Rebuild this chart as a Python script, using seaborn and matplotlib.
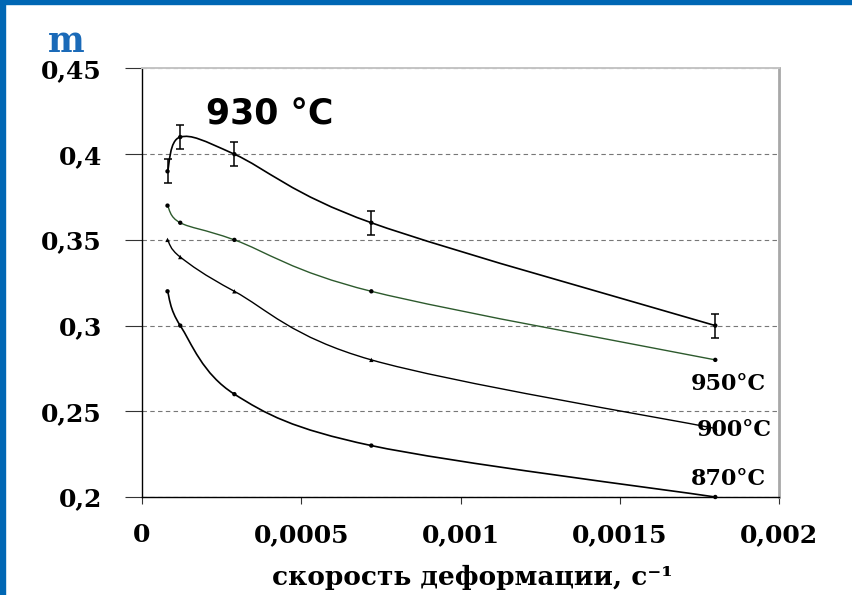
import numpy as np
import pandas as pd
import seaborn as sns
import matplotlib
matplotlib.use('Agg')
import matplotlib.pyplot as plt
from matplotlib.path import Path
from matplotlib.patches import PathPatch, Rectangle

# strain rate, 1/s
rate = [0.00008, 0.00012, 0.00029, 0.00072, 0.0018]
m_930 = [0.39, 0.41, 0.40, 0.36, 0.30]
err_930 = [0.007, 0.007, 0.007, 0.007, 0.007]
m_950 = [0.37, 0.36, 0.35, 0.32, 0.28]
m_900 = [0.35, 0.34, 0.32, 0.28, 0.24]
m_870 = [0.32, 0.30, 0.26, 0.23, 0.20]

y_ticks = [0.2, 0.25, 0.3, 0.35, 0.4, 0.45]
y_tick_labels = ['0,2', '0,25', '0,3', '0,35', '0,4', '0,45']
x_ticks = [0, 0.0005, 0.001, 0.0015, 0.002]
x_tick_labels = ['0', '0,0005', '0,001', '0,0015', '0,002']

df = pd.DataFrame({
    'rate': rate * 4,
    'm': m_930 + m_950 + m_900 + m_870,
    'temp': ['930'] * 5 + ['950'] * 5 + ['900'] * 5 + ['870'] * 5,
})


def smooth_path(x, y):
    # excel-like smoothed line (catmull-rom as cubic bezier)
    pts = np.column_stack([x, y])
    p = np.vstack([pts[:1], pts, pts[-1:]])
    verts = [pts[0]]
    codes = [Path.MOVETO]
    for i in range(1, len(p) - 2):
        c1 = p[i] + (p[i + 1] - p[i - 1]) / 6
        c2 = p[i + 1] - (p[i + 2] - p[i]) / 6
        verts += [c1, c2, p[i + 1]]
        codes += [Path.CURVE4] * 3
    return Path(verts, codes)


sns.set_style('white')
plt.rcParams['font.family'] = ['DejaVu Serif']
plt.rcParams['font.weight'] = 'bold'
plt.rcParams['text.color'] = 'black'
plt.rcParams['axes.labelcolor'] = 'black'
plt.rcParams['xtick.color'] = 'black'
plt.rcParams['ytick.color'] = 'black'

fig = plt.figure(figsize=(8.52, 5.95), dpi=100)
ax = fig.add_axes([0.1667, 0.1647, 0.7476, 0.7202])

colors = {'930': 'black', '950': '#2d5a2d', '900': 'black', '870': 'black'}
widths = {'930': 1.2, '950': 1.0, '900': 1.0, '870': 1.2}
for t in ['930', '950', '900', '870']:
    sub = df[df['temp'] == t]
    ax.add_patch(PathPatch(smooth_path(sub['rate'], sub['m']), fill=False,
                           edgecolor=colors[t], lw=widths[t], zorder=3))

markers = {'930': 'o', '950': 'o', '900': '^', '870': 'o'}
sns.scatterplot(data=df, x='rate', y='m', hue='temp', style='temp',
                markers=markers, palette={k: 'black' for k in colors},
                s=10, edgecolor='none', legend=False, ax=ax, zorder=4,
                clip_on=False)

ax.errorbar(rate, m_930, yerr=err_930, fmt='none', ecolor='black',
            elinewidth=1.1, capsize=2.6, capthick=1.1, zorder=4)

ax.set_xlim(0, 0.002)
ax.set_ylim(0.2, 0.45)
ax.set_xticks(x_ticks)
ax.set_xticklabels(x_tick_labels)
ax.set_yticks(y_ticks)
ax.set_yticklabels(y_tick_labels)
ax.tick_params(axis='y', direction='out', length=12, width=0.8,
               color='#333333', pad=17, labelsize=18, left=True)
ax.tick_params(axis='x', direction='out', length=5, width=0.8,
               color='#333333', pad=14, labelsize=18, bottom=True)

ax.yaxis.grid(True, linestyle=(0, (4, 3)), color='#777777', lw=0.8)
ax.xaxis.grid(False)

ax.spines['left'].set_color('black')
ax.spines['left'].set_linewidth(1.0)
ax.spines['bottom'].set_color('black')
ax.spines['bottom'].set_linewidth(1.0)
ax.spines['top'].set_color('#c4c4c4')
ax.spines['top'].set_linewidth(1.4)
ax.spines['right'].set_color('#a8a8a8')
ax.spines['right'].set_linewidth(2.0)

ax.set_xlabel('скорость деформации, с⁻¹', fontsize=19, fontweight='bold',
              va='center')
ax.xaxis.set_label_coords(0.518, -0.188)
ax.set_ylabel('')

fig.text(66 / 852, 1 - 42 / 595, 'm', fontsize=25, fontweight='bold',
         color='#1a6ab8', ha='center', va='center')

ax.text(0.201, 0.893, '930 °C', transform=ax.transAxes, fontsize=25,
        fontweight='heavy', family=['DejaVu Sans'], ha='center', va='center')
ax.text(0.98, 0.264, '950°C', transform=ax.transAxes, fontsize=16,
        fontweight='bold', ha='right', va='center')
ax.text(0.989, 0.157, '900°C', transform=ax.transAxes, fontsize=16,
        fontweight='bold', ha='right', va='center')
ax.text(0.98, 0.042, '870°C', transform=ax.transAxes, fontsize=16,
        fontweight='bold', ha='right', va='center')

# blue slide frame
fig.patches.append(Rectangle((0, 1 - 4 / 595), 1, 4 / 595, transform=fig.transFigure,
                             color='#0067b4', zorder=10))
fig.patches.append(Rectangle((0, 0), 5 / 852, 1, transform=fig.transFigure,
                             color='#0067b4', zorder=10))

fig.savefig('out.png', dpi=100)
